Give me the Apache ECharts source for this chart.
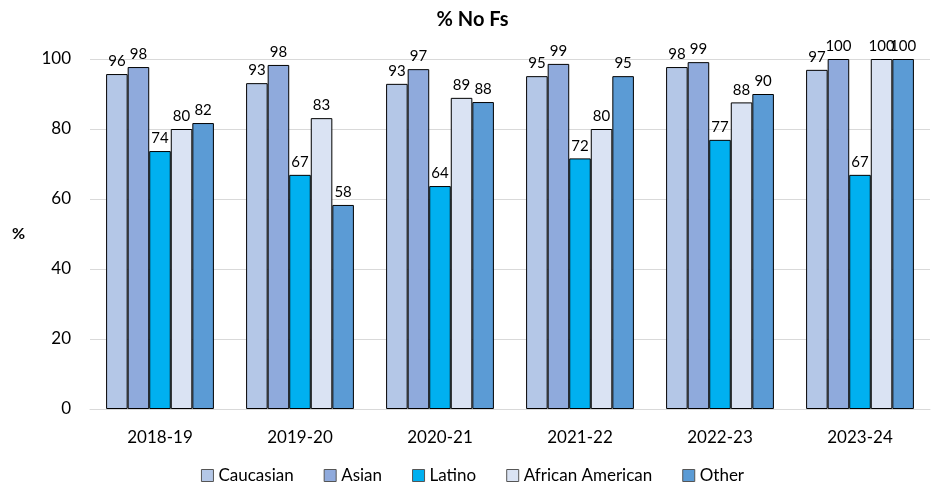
<!DOCTYPE html>
<html><head><meta charset="utf-8">
<script src="https://cdn.jsdelivr.net/npm/echarts@6/dist/echarts.min.js"></script>
<style>html,body{margin:0;padding:0;background:#fff}#c{width:945px;height:491px}</style>
</head><body><div id="c"></div>
<script>
const categories = ['2018-19','2019-20','2020-21','2021-22','2022-23','2023-24'];
const seriesNames = ['Caucasian','Asian','Latino','African American','Other'];
const caucasian = [95.7, 93.1, 92.9, 95.1, 97.7, 96.9];
const asian = [97.7, 98.3, 97.1, 98.6, 99.1, 100];
const latino = [73.7, 66.9, 63.7, 71.6, 76.9, 66.9];
const africanAmerican = [80.0, 83.1, 88.9, 80.0, 87.6, 100];
const other = [81.7, 58.3, 87.7, 95.1, 90.0, 100];
const colors = ['#B4C7E7','#8FAADC','#00B0F0','#DAE3F3','#5B9BD5'];
const yTicks = [0,20,40,60,80,100];

const font = 'Lato, "Open Sans", sans-serif';
const data = [caucasian, asian, latino, africanAmerican, other];
const chart = echarts.init(document.getElementById('c'));
chart.setOption({
  animation:false,
  title:{text:'% No Fs', left:'center', top:5, textStyle:{fontFamily:font, fontSize:20, fontWeight:'bold', color:'#000'}},
  grid:{left:90, right:15, top:59, bottom:82},
  legend:{bottom:2, left:'center', itemWidth:12, itemHeight:12, itemGap:30,
    textStyle:{fontFamily:font, fontSize:17, color:'#000'}, data:seriesNames, icon:'rect',
    itemStyle:{borderColor:'#555', borderWidth:1}},
  xAxis:{type:'category', data:categories,
    axisLine:{lineStyle:{color:'#D9D9D9'}}, axisTick:{show:false},
    axisLabel:{fontFamily:font, fontSize:17, color:'#000', margin:20}},
  yAxis:{type:'value', min:yTicks[0], max:yTicks[yTicks.length-1], interval:20,
    name:'%', nameLocation:'middle', nameGap:65, nameRotate:0,
    nameTextStyle:{fontFamily:font, fontSize:16, fontWeight:'bold', color:'#000'},
    axisLine:{show:false}, axisTick:{show:false},
    axisLabel:{fontFamily:font, fontSize:17, color:'#000', margin:19},
    splitLine:{lineStyle:{color:'#D9D9D9', width:1}}},
  series: seriesNames.map((n,i)=>({
    name:n, type:'bar', data:data[i], barGap:'0%', barCategoryGap:'23%',
    itemStyle:{color:colors[i], borderColor:'#000', borderWidth:1},
    label:{show:true, position:'top', distance:5, fontFamily:font, fontSize:15, color:'#000',
      formatter:p=>Math.round(p.value)}
  }))
});
</script></body></html>
